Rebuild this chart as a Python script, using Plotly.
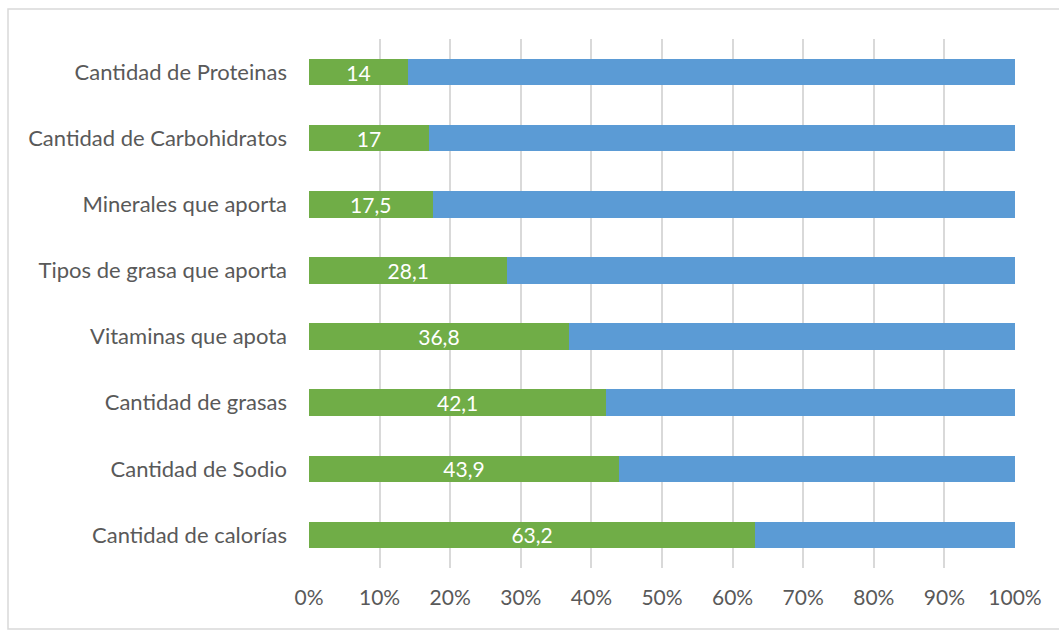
import plotly.graph_objects as go

categories = [
    "Cantidad de calorías",
    "Cantidad de Sodio",
    "Cantidad de grasas",
    "Vitaminas que apota",
    "Tipos de grasa que aporta",
    "Minerales que aporta",
    "Cantidad de Carbohidratos",
    "Cantidad de Proteinas",
]
valores = [63.2, 43.9, 42.1, 36.8, 28.1, 17.5, 17, 14]
resto = [round(100 - v, 1) for v in valores]
etiquetas = [str(v).replace(".", ",") for v in valores]
ticks = [0, 10, 20, 30, 40, 50, 60, 70, 80, 90, 100]
tick_text = [f"{t}%" for t in ticks]

FONT = "Lato, 'Open Sans', sans-serif"
GRAY = "#595959"

fig = go.Figure()
fig.add_trace(go.Bar(
    y=categories, x=valores, orientation="h",
    marker=dict(color="#70AD47", line=dict(width=0)),
    text=etiquetas, textposition="inside", insidetextanchor="middle",
    textangle=0, constraintext="none",
    textfont=dict(color="white", size=21, family=FONT),
    cliponaxis=False,
    hoverinfo="skip",
))
fig.add_trace(go.Bar(
    y=categories, x=resto, orientation="h",
    marker=dict(color="#5B9BD5", line=dict(width=0)),
    hoverinfo="skip",
))

W, H = 1059, 631
L, R, T, B = 309, 44, 39, 63
pw, ph = W - L - R, H - T - B

def px_x(p):
    return (p - L) / pw

def px_y(p):
    return (H - B - p) / ph

fig.add_shape(
    type="rect", xref="paper", yref="paper",
    x0=px_x(8), x1=px_x(1070), y0=px_y(629), y1=px_y(9),
    line=dict(color="#D9D9D9", width=1.5), fillcolor="rgba(0,0,0,0)",
    layer="below",
)

fig.update_layout(
    width=W, height=H,
    margin=dict(l=L, r=R, t=T, b=B),
    barmode="stack", bargap=0.6,
    showlegend=False,
    plot_bgcolor="white", paper_bgcolor="white",
    font=dict(family=FONT, color=GRAY, size=21),
)
fig.update_xaxes(
    range=[0, 100], tickvals=ticks, ticktext=tick_text,
    showgrid=True, gridcolor="#D9D9D9", gridwidth=1.5,
    zeroline=False, showline=False, ticks="",
    tickfont=dict(size=21, color=GRAY, family=FONT),
    ticklabelstandoff=15,
)
fig.update_yaxes(
    categoryorder="array", categoryarray=categories,
    showgrid=False, zeroline=False, showline=False, ticks="",
    tickfont=dict(size=22, color=GRAY, family=FONT),
    ticklabelstandoff=21,
)

fig.write_html("out.html")
